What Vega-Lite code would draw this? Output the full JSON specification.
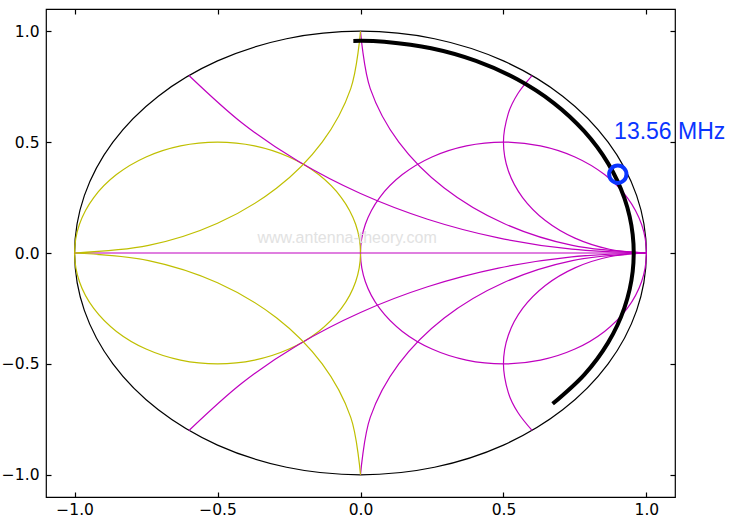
{
  "$schema": "https://vega.github.io/schema/vega-lite/v6.json",
  "width": 629,
  "height": 488,
  "autosize": {"type": "none"},
  "padding": {"left": 46, "top": 9, "right": 59, "bottom": 32},
  "background": "white",
  "title": {"text": "www.antenna-theory.com", "fontSize": 16, "font": "Liberation Sans", "fontWeight": "normal", "color": "black", "offset": 5, "dx": -10, "baseline": "alphabetic"},
  "config": {
    "view": {"stroke": "black", "strokeWidth": 1.2},
    "axis": {"grid": false, "domain": false, "tickColor": "black", "tickSize": 5, "tickWidth": 1.2, "labelFont": "DejaVu Sans", "labelFontSize": 15.5, "labelColor": "black", "labelPadding": 7, "offset": -5, "title": null, "format": ".1f"}
  },
  "datasets": {
    "circles": [
      {"curve": "unit", "family": "boundary", "o": 0, "x": 1, "y": 0},
      {"curve": "unit", "family": "boundary", "o": 1, "x": 0.9659, "y": 0.2588},
      {"curve": "unit", "family": "boundary", "o": 2, "x": 0.866, "y": 0.5},
      {"curve": "unit", "family": "boundary", "o": 3, "x": 0.7071, "y": 0.7071},
      {"curve": "unit", "family": "boundary", "o": 4, "x": 0.5, "y": 0.866},
      {"curve": "unit", "family": "boundary", "o": 5, "x": 0.2588, "y": 0.9659},
      {"curve": "unit", "family": "boundary", "o": 6, "x": 0, "y": 1},
      {"curve": "unit", "family": "boundary", "o": 7, "x": -0.2588, "y": 0.9659},
      {"curve": "unit", "family": "boundary", "o": 8, "x": -0.5, "y": 0.866},
      {"curve": "unit", "family": "boundary", "o": 9, "x": -0.7071, "y": 0.7071},
      {"curve": "unit", "family": "boundary", "o": 10, "x": -0.866, "y": 0.5},
      {"curve": "unit", "family": "boundary", "o": 11, "x": -0.9659, "y": 0.2588},
      {"curve": "unit", "family": "boundary", "o": 12, "x": -1, "y": 0},
      {"curve": "unit", "family": "boundary", "o": 13, "x": -0.9659, "y": -0.2588},
      {"curve": "unit", "family": "boundary", "o": 14, "x": -0.866, "y": -0.5},
      {"curve": "unit", "family": "boundary", "o": 15, "x": -0.7071, "y": -0.7071},
      {"curve": "unit", "family": "boundary", "o": 16, "x": -0.5, "y": -0.866},
      {"curve": "unit", "family": "boundary", "o": 17, "x": -0.2588, "y": -0.9659},
      {"curve": "unit", "family": "boundary", "o": 18, "x": 0, "y": -1},
      {"curve": "unit", "family": "boundary", "o": 19, "x": 0.2588, "y": -0.9659},
      {"curve": "unit", "family": "boundary", "o": 20, "x": 0.5, "y": -0.866},
      {"curve": "unit", "family": "boundary", "o": 21, "x": 0.7071, "y": -0.7071},
      {"curve": "unit", "family": "boundary", "o": 22, "x": 0.866, "y": -0.5},
      {"curve": "unit", "family": "boundary", "o": 23, "x": 0.9659, "y": -0.2588},

      {"curve": "r1", "family": "impedance", "o": 0, "x": 1, "y": 0},
      {"curve": "r1", "family": "impedance", "o": 1, "x": 0.983, "y": 0.1294},
      {"curve": "r1", "family": "impedance", "o": 2, "x": 0.933, "y": 0.25},
      {"curve": "r1", "family": "impedance", "o": 3, "x": 0.8536, "y": 0.3536},
      {"curve": "r1", "family": "impedance", "o": 4, "x": 0.75, "y": 0.433},
      {"curve": "r1", "family": "impedance", "o": 5, "x": 0.6294, "y": 0.483},
      {"curve": "r1", "family": "impedance", "o": 6, "x": 0.5, "y": 0.5},
      {"curve": "r1", "family": "impedance", "o": 7, "x": 0.3706, "y": 0.483},
      {"curve": "r1", "family": "impedance", "o": 8, "x": 0.25, "y": 0.433},
      {"curve": "r1", "family": "impedance", "o": 9, "x": 0.1464, "y": 0.3536},
      {"curve": "r1", "family": "impedance", "o": 10, "x": 0.067, "y": 0.25},
      {"curve": "r1", "family": "impedance", "o": 11, "x": 0.017, "y": 0.1294},
      {"curve": "r1", "family": "impedance", "o": 12, "x": 0, "y": 0},
      {"curve": "r1", "family": "impedance", "o": 13, "x": 0.017, "y": -0.1294},
      {"curve": "r1", "family": "impedance", "o": 14, "x": 0.067, "y": -0.25},
      {"curve": "r1", "family": "impedance", "o": 15, "x": 0.1464, "y": -0.3536},
      {"curve": "r1", "family": "impedance", "o": 16, "x": 0.25, "y": -0.433},
      {"curve": "r1", "family": "impedance", "o": 17, "x": 0.3706, "y": -0.483},
      {"curve": "r1", "family": "impedance", "o": 18, "x": 0.5, "y": -0.5},
      {"curve": "r1", "family": "impedance", "o": 19, "x": 0.6294, "y": -0.483},
      {"curve": "r1", "family": "impedance", "o": 20, "x": 0.75, "y": -0.433},
      {"curve": "r1", "family": "impedance", "o": 21, "x": 0.8536, "y": -0.3536},
      {"curve": "r1", "family": "impedance", "o": 22, "x": 0.933, "y": -0.25},
      {"curve": "r1", "family": "impedance", "o": 23, "x": 0.983, "y": -0.1294},

      {"curve": "g1", "family": "admittance", "o": 0, "x": 0, "y": 0},
      {"curve": "g1", "family": "admittance", "o": 1, "x": -0.017, "y": 0.1294},
      {"curve": "g1", "family": "admittance", "o": 2, "x": -0.067, "y": 0.25},
      {"curve": "g1", "family": "admittance", "o": 3, "x": -0.1464, "y": 0.3536},
      {"curve": "g1", "family": "admittance", "o": 4, "x": -0.25, "y": 0.433},
      {"curve": "g1", "family": "admittance", "o": 5, "x": -0.3706, "y": 0.483},
      {"curve": "g1", "family": "admittance", "o": 6, "x": -0.5, "y": 0.5},
      {"curve": "g1", "family": "admittance", "o": 7, "x": -0.6294, "y": 0.483},
      {"curve": "g1", "family": "admittance", "o": 8, "x": -0.75, "y": 0.433},
      {"curve": "g1", "family": "admittance", "o": 9, "x": -0.8536, "y": 0.3536},
      {"curve": "g1", "family": "admittance", "o": 10, "x": -0.933, "y": 0.25},
      {"curve": "g1", "family": "admittance", "o": 11, "x": -0.983, "y": 0.1294},
      {"curve": "g1", "family": "admittance", "o": 12, "x": -1, "y": 0},
      {"curve": "g1", "family": "admittance", "o": 13, "x": -0.983, "y": -0.1294},
      {"curve": "g1", "family": "admittance", "o": 14, "x": -0.933, "y": -0.25},
      {"curve": "g1", "family": "admittance", "o": 15, "x": -0.8536, "y": -0.3536},
      {"curve": "g1", "family": "admittance", "o": 16, "x": -0.75, "y": -0.433},
      {"curve": "g1", "family": "admittance", "o": 17, "x": -0.6294, "y": -0.483},
      {"curve": "g1", "family": "admittance", "o": 18, "x": -0.5, "y": -0.5},
      {"curve": "g1", "family": "admittance", "o": 19, "x": -0.3706, "y": -0.483},
      {"curve": "g1", "family": "admittance", "o": 20, "x": -0.25, "y": -0.433},
      {"curve": "g1", "family": "admittance", "o": 21, "x": -0.1464, "y": -0.3536},
      {"curve": "g1", "family": "admittance", "o": 22, "x": -0.067, "y": -0.25},
      {"curve": "g1", "family": "admittance", "o": 23, "x": -0.017, "y": -0.1294}
    ],
    "arcs": [
      {"curve": "axis", "family": "impedance", "o": 0, "x": -1, "y": 0},
      {"curve": "axis", "family": "impedance", "o": 1, "x": 1, "y": 0},

      {"curve": "x+1", "family": "impedance", "o": 0, "x": 0, "y": 1},
      {"curve": "x+1", "family": "impedance", "o": 1, "x": 0.0341, "y": 0.7412},
      {"curve": "x+1", "family": "impedance", "o": 2, "x": 0.134, "y": 0.5},
      {"curve": "x+1", "family": "impedance", "o": 3, "x": 0.2929, "y": 0.2929},
      {"curve": "x+1", "family": "impedance", "o": 4, "x": 0.5, "y": 0.134},
      {"curve": "x+1", "family": "impedance", "o": 5, "x": 0.7412, "y": 0.0341},
      {"curve": "x+1", "family": "impedance", "o": 6, "x": 1, "y": 0},

      {"curve": "x-1", "family": "impedance", "o": 0, "x": 0, "y": -1},
      {"curve": "x-1", "family": "impedance", "o": 1, "x": 0.0341, "y": -0.7412},
      {"curve": "x-1", "family": "impedance", "o": 2, "x": 0.134, "y": -0.5},
      {"curve": "x-1", "family": "impedance", "o": 3, "x": 0.2929, "y": -0.2929},
      {"curve": "x-1", "family": "impedance", "o": 4, "x": 0.5, "y": -0.134},
      {"curve": "x-1", "family": "impedance", "o": 5, "x": 0.7412, "y": -0.0341},
      {"curve": "x-1", "family": "impedance", "o": 6, "x": 1, "y": 0},

      {"curve": "x+0.5", "family": "impedance", "o": 0, "x": -0.6, "y": 0.8},
      {"curve": "x+0.5", "family": "impedance", "o": 1, "x": -0.4142, "y": 0.5858},
      {"curve": "x+0.5", "family": "impedance", "o": 2, "x": -0.2176, "y": 0.4132},
      {"curve": "x+0.5", "family": "impedance", "o": 3, "x": 0, "y": 0.268},
      {"curve": "x+0.5", "family": "impedance", "o": 4, "x": 0.2346, "y": 0.1522},
      {"curve": "x+0.5", "family": "impedance", "o": 5, "x": 0.4824, "y": 0.0682},
      {"curve": "x+0.5", "family": "impedance", "o": 6, "x": 0.739, "y": 0.0172},
      {"curve": "x+0.5", "family": "impedance", "o": 7, "x": 1, "y": 0},

      {"curve": "x-0.5", "family": "impedance", "o": 0, "x": -0.6, "y": -0.8},
      {"curve": "x-0.5", "family": "impedance", "o": 1, "x": -0.4142, "y": -0.5858},
      {"curve": "x-0.5", "family": "impedance", "o": 2, "x": -0.2176, "y": -0.4132},
      {"curve": "x-0.5", "family": "impedance", "o": 3, "x": 0, "y": -0.268},
      {"curve": "x-0.5", "family": "impedance", "o": 4, "x": 0.2346, "y": -0.1522},
      {"curve": "x-0.5", "family": "impedance", "o": 5, "x": 0.4824, "y": -0.0682},
      {"curve": "x-0.5", "family": "impedance", "o": 6, "x": 0.739, "y": -0.0172},
      {"curve": "x-0.5", "family": "impedance", "o": 7, "x": 1, "y": 0},

      {"curve": "x+2", "family": "impedance", "o": 0, "x": 0.6, "y": 0.8},
      {"curve": "x+2", "family": "impedance", "o": 1, "x": 0.5506, "y": 0.7192},
      {"curve": "x+2", "family": "impedance", "o": 2, "x": 0.517, "y": 0.6294},
      {"curve": "x+2", "family": "impedance", "o": 3, "x": 0.5, "y": 0.5},
      {"curve": "x+2", "family": "impedance", "o": 4, "x": 0.517, "y": 0.3706},
      {"curve": "x+2", "family": "impedance", "o": 5, "x": 0.567, "y": 0.25},
      {"curve": "x+2", "family": "impedance", "o": 6, "x": 0.6464, "y": 0.1464},
      {"curve": "x+2", "family": "impedance", "o": 7, "x": 0.75, "y": 0.067},
      {"curve": "x+2", "family": "impedance", "o": 8, "x": 0.8706, "y": 0.017},
      {"curve": "x+2", "family": "impedance", "o": 9, "x": 1, "y": 0},

      {"curve": "x-2", "family": "impedance", "o": 0, "x": 0.6, "y": -0.8},
      {"curve": "x-2", "family": "impedance", "o": 1, "x": 0.5506, "y": -0.7192},
      {"curve": "x-2", "family": "impedance", "o": 2, "x": 0.517, "y": -0.6294},
      {"curve": "x-2", "family": "impedance", "o": 3, "x": 0.5, "y": -0.5},
      {"curve": "x-2", "family": "impedance", "o": 4, "x": 0.517, "y": -0.3706},
      {"curve": "x-2", "family": "impedance", "o": 5, "x": 0.567, "y": -0.25},
      {"curve": "x-2", "family": "impedance", "o": 6, "x": 0.6464, "y": -0.1464},
      {"curve": "x-2", "family": "impedance", "o": 7, "x": 0.75, "y": -0.067},
      {"curve": "x-2", "family": "impedance", "o": 8, "x": 0.8706, "y": -0.017},
      {"curve": "x-2", "family": "impedance", "o": 9, "x": 1, "y": 0},

      {"curve": "b+1", "family": "admittance", "o": 0, "x": 0, "y": 1},
      {"curve": "b+1", "family": "admittance", "o": 1, "x": -0.0341, "y": 0.7412},
      {"curve": "b+1", "family": "admittance", "o": 2, "x": -0.134, "y": 0.5},
      {"curve": "b+1", "family": "admittance", "o": 3, "x": -0.2929, "y": 0.2929},
      {"curve": "b+1", "family": "admittance", "o": 4, "x": -0.5, "y": 0.134},
      {"curve": "b+1", "family": "admittance", "o": 5, "x": -0.7412, "y": 0.0341},
      {"curve": "b+1", "family": "admittance", "o": 6, "x": -1, "y": 0},

      {"curve": "b-1", "family": "admittance", "o": 0, "x": 0, "y": -1},
      {"curve": "b-1", "family": "admittance", "o": 1, "x": -0.0341, "y": -0.7412},
      {"curve": "b-1", "family": "admittance", "o": 2, "x": -0.134, "y": -0.5},
      {"curve": "b-1", "family": "admittance", "o": 3, "x": -0.2929, "y": -0.2929},
      {"curve": "b-1", "family": "admittance", "o": 4, "x": -0.5, "y": -0.134},
      {"curve": "b-1", "family": "admittance", "o": 5, "x": -0.7412, "y": -0.0341},
      {"curve": "b-1", "family": "admittance", "o": 6, "x": -1, "y": 0}
    ],
    "trace": [
      {"o": 0, "x": -0.025, "y": 0.956},
      {"o": 1, "x": 0.083, "y": 0.952},
      {"o": 2, "x": 0.247, "y": 0.923},
      {"o": 3, "x": 0.404, "y": 0.866},
      {"o": 4, "x": 0.548, "y": 0.783},
      {"o": 5, "x": 0.676, "y": 0.676},
      {"o": 6, "x": 0.783, "y": 0.548},
      {"o": 7, "x": 0.866, "y": 0.404},
      {"o": 8, "x": 0.923, "y": 0.247},
      {"o": 9, "x": 0.952, "y": 0.083},
      {"o": 10, "x": 0.952, "y": -0.083},
      {"o": 11, "x": 0.923, "y": -0.247},
      {"o": 12, "x": 0.866, "y": -0.404},
      {"o": 13, "x": 0.783, "y": -0.548},
      {"o": 14, "x": 0.672, "y": -0.68}
    ],
    "marker": [
      {"x": 0.9, "y": 0.355, "freq": "13.56 MHz", "lx": 0.887, "ly": 0.514}
    ],
    "watermark": [
      {"x": -0.047, "y": 0.045, "label": "www.antenna-theory.com"}
    ]
  },
  "resolve": {"axis": {"x": "independent", "y": "independent"}},
  "layer": [
    {
      "data": {"name": "circles"},
      "mark": {"type": "line", "interpolate": "cardinal-closed", "strokeWidth": 1.2},
      "encoding": {
        "x": {"field": "x", "type": "quantitative", "scale": {"domain": [-1.1, 1.1], "nice": false, "zero": false}, "axis": {"orient": "bottom", "labelPadding": 5, "values": [-1, -0.5, 0, 0.5, 1]}},
        "y": {"field": "y", "type": "quantitative", "scale": {"domain": [-1.1, 1.1], "nice": false, "zero": false}, "axis": {"orient": "left", "labelPadding": 7, "values": [-1, -0.5, 0, 0.5, 1]}},
        "detail": {"field": "curve"},
        "order": {"field": "o", "type": "quantitative"},
        "color": {"field": "family", "type": "nominal", "scale": {"domain": ["boundary", "impedance", "admittance"], "range": ["#000000", "#bf00bf", "#bfbf00"]}, "legend": null}
      }
    },
    {
      "data": {"name": "arcs"},
      "mark": {"type": "line", "interpolate": "cardinal", "strokeWidth": 1.2},
      "encoding": {
        "x": {"field": "x", "type": "quantitative", "scale": {"domain": [-1.1, 1.1], "nice": false, "zero": false}, "axis": {"orient": "top", "labels": false, "values": [-1, -0.5, 0, 0.5, 1]}},
        "y": {"field": "y", "type": "quantitative", "scale": {"domain": [-1.1, 1.1], "nice": false, "zero": false}, "axis": {"orient": "right", "labels": false, "values": [-1, -0.5, 0, 0.5, 1]}},
        "detail": {"field": "curve"},
        "order": {"field": "o", "type": "quantitative"},
        "color": {"field": "family", "type": "nominal", "legend": null}
      }
    },
    {
      "data": {"name": "watermark"},
      "mark": {"type": "text", "font": "Liberation Sans", "fontSize": 16, "color": "#e2e2e2", "align": "center", "baseline": "alphabetic"},
      "encoding": {
        "x": {"field": "x", "type": "quantitative", "axis": null},
        "y": {"field": "y", "type": "quantitative", "axis": null},
        "text": {"field": "label"}
      }
    },
    {
      "data": {"name": "trace"},
      "mark": {"type": "line", "interpolate": "cardinal", "strokeWidth": 4, "color": "black", "strokeCap": "butt"},
      "encoding": {
        "x": {"field": "x", "type": "quantitative", "axis": null},
        "y": {"field": "y", "type": "quantitative", "axis": null},
        "order": {"field": "o", "type": "quantitative"}
      }
    },
    {
      "data": {"name": "marker"},
      "mark": {"type": "point", "shape": "circle", "filled": false, "size": 300, "strokeWidth": 4, "color": "#0a35ff", "opacity": 1},
      "encoding": {
        "x": {"field": "x", "type": "quantitative", "axis": null},
        "y": {"field": "y", "type": "quantitative", "axis": null}
      }
    },
    {
      "data": {"name": "marker"},
      "mark": {"type": "text", "font": "Liberation Sans", "fontSize": 23, "color": "#0a35ff", "align": "left", "baseline": "alphabetic"},
      "encoding": {
        "x": {"field": "lx", "type": "quantitative", "axis": null},
        "y": {"field": "ly", "type": "quantitative", "axis": null},
        "text": {"field": "freq"}
      }
    }
  ]
}
